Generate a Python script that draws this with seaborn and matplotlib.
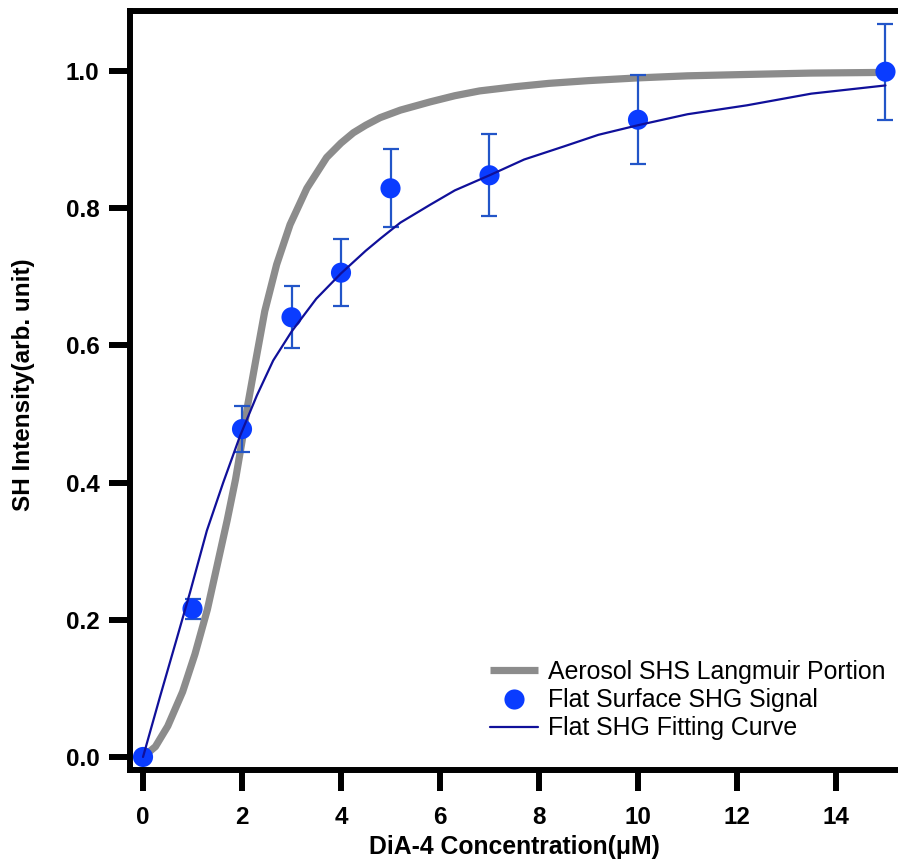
import matplotlib
matplotlib.use("Agg")
import matplotlib.pyplot as plt
import seaborn as sns
from matplotlib.lines import Line2D

# ---- data ----
conc = [0, 1, 2, 3, 4, 5, 7, 10, 15]
signal = [0.0, 0.216, 0.478, 0.641, 0.706, 0.829, 0.848, 0.929, 0.999]
signal_err = [0.0, 0.015, 0.033, 0.045, 0.049, 0.057, 0.060, 0.065, 0.070]

aerosol_x = [0, 0.25, 0.5, 0.8, 1.05, 1.3, 1.5, 1.7, 1.87, 2.0, 2.12, 2.27, 2.46,
             2.70, 2.97, 3.31, 3.71, 4.0, 4.25, 4.5, 4.79, 5.2, 5.8, 6.3, 6.8,
             7.5, 8.2, 9.0, 10.0, 11.0, 12.2, 13.5, 15.0]
aerosol_y = [0, 0.015, 0.045, 0.095, 0.15, 0.215, 0.28, 0.345, 0.405, 0.46, 0.515, 0.575, 0.65,
             0.718, 0.776, 0.829, 0.874, 0.895, 0.910, 0.921, 0.932, 0.943, 0.955, 0.964, 0.971,
             0.977, 0.982, 0.986, 0.990, 0.993, 0.995, 0.997, 0.998]

fit_x = [0, 0.34, 0.68, 0.95, 1.29, 1.62, 1.96, 2.30, 2.63, 3.0, 3.5, 4.0, 4.5,
         4.8, 5.2, 5.8, 6.3, 7.0, 7.7, 8.5, 9.2, 10.0, 11.0, 12.2, 13.5, 15.0]
fit_y = [0, 0.087, 0.172, 0.24, 0.33, 0.40, 0.468, 0.527, 0.578, 0.62, 0.668, 0.705, 0.738,
         0.756, 0.779, 0.805, 0.826, 0.848, 0.871, 0.89, 0.907, 0.921, 0.937, 0.950, 0.967, 0.979]

x_ticks = [0, 2, 4, 6, 8, 10, 12, 14]
y_ticks = [0.0, 0.2, 0.4, 0.6, 0.8, 1.0]
y_tick_labels = ["0.0", "0.2", "0.4", "0.6", "0.8", "1.0"]

labels = ["Aerosol SHS Langmuir Portion", "Flat Surface SHG Signal", "Flat SHG Fitting Curve"]

# ---- style ----
sns.set_style("ticks")
plt.rcParams["font.family"] = ["Liberation Sans", "DejaVu Sans"]
plt.rcParams["text.color"] = "black"
plt.rcParams["axes.labelcolor"] = "black"
plt.rcParams["xtick.color"] = "black"
plt.rcParams["ytick.color"] = "black"

gray = "#8c8c8c"
dot_blue = "#0a3cff"
err_blue = "#2255c8"
fit_blue = "#10109a"

W, H = 898, 863
fig = plt.figure(figsize=(W / 100, H / 100), dpi=100)
ax = fig.add_axes([130 / W, 1 - 770 / H, 1 - 130 / W, (770 - 11) / H])

sns.lineplot(x=aerosol_x, y=aerosol_y, color=gray, linewidth=5.2, sort=False, ax=ax,
             zorder=2, solid_capstyle="butt", solid_joinstyle="round")
ax.errorbar(conc, signal, yerr=signal_err, fmt="none", ecolor=err_blue,
            elinewidth=1.6, capsize=6, capthick=1.6, zorder=3, clip_on=False)
sns.scatterplot(x=conc, y=signal, s=210, color=dot_blue, edgecolor="none",
                ax=ax, zorder=4, clip_on=False)
sns.lineplot(x=fit_x, y=fit_y, color=fit_blue, linewidth=1.6, sort=False, ax=ax, zorder=5,
             solid_joinstyle="round")

ax.set_xlim(-0.263, 15.253)
ax.set_ylim(-0.019, 1.0875)
ax.set_xticks(x_ticks)
ax.set_xticklabels([str(t) for t in x_ticks])
ax.set_yticks(y_ticks)
ax.set_yticklabels(y_tick_labels)

for side in ["left", "top", "bottom"]:
    ax.spines[side].set_linewidth(4.3)
    ax.spines[side].set_color("black")
    ax.spines[side].set_capstyle("projecting")
ax.spines["right"].set_visible(False)

ax.tick_params(axis="both", direction="out", length=15, width=4.3, color="black",
               labelsize=17.5, labelcolor="black")
ax.tick_params(axis="x", pad=11)
ax.tick_params(axis="y", pad=7)
for lab in ax.get_xticklabels() + ax.get_yticklabels():
    lab.set_fontweight("bold")

ax.set_xlabel("DiA-4 Concentration(μM)", fontsize=17.8, fontweight="bold", labelpad=4,
              color="black")
ax.set_ylabel("SH Intensity(arb. unit)", fontsize=17.5, fontweight="bold", color="black")
ax.yaxis.set_label_coords(-0.124, 0.507)

handles = [
    Line2D([], [], color=gray, linewidth=5.2, solid_capstyle="butt"),
    Line2D([], [], linestyle="none", marker="o", markersize=14.5, color=dot_blue,
           markeredgecolor="none"),
    Line2D([], [], color=fit_blue, linewidth=1.6),
]
leg = ax.legend(handles, labels, loc="upper left", bbox_to_anchor=(490 / W, 1 - 660 / H),
                bbox_transform=fig.transFigure, frameon=False, fontsize=17.9,
                handlelength=1.93, handletextpad=0.4, labelspacing=0.17,
                borderpad=0, borderaxespad=0)
for t in leg.get_texts():
    t.set_color("black")

fig.savefig("out.png", dpi=100)
